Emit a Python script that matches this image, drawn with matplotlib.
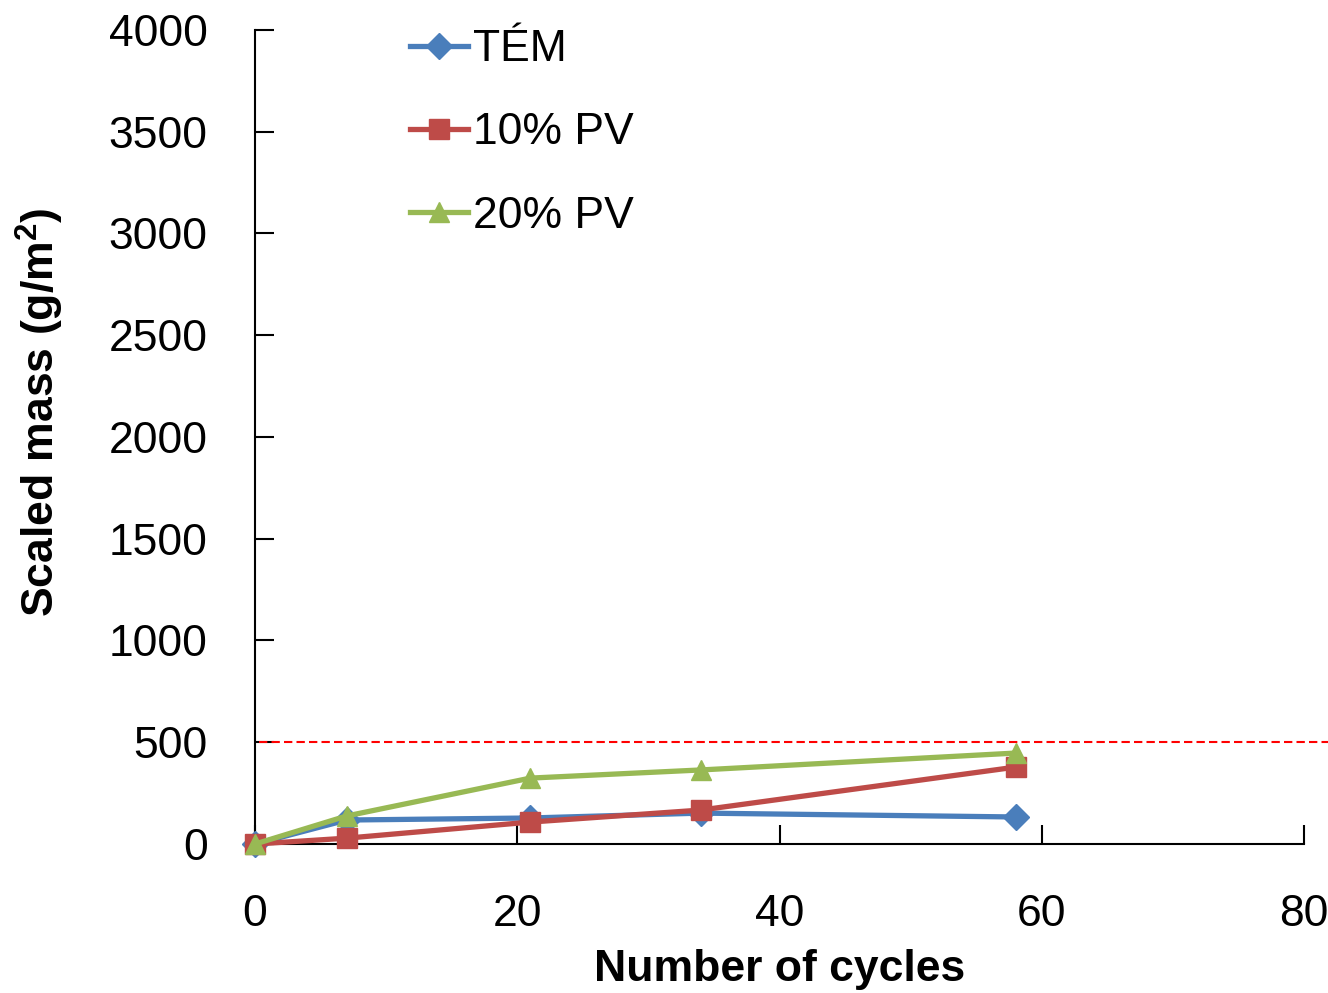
import matplotlib

matplotlib.use("Agg")
import matplotlib.pyplot as plt

cycles = [0, 7, 21, 34, 58]
tem = [0, 118, 128, 152, 133]
pv10 = [0, 29, 108, 167, 378]
pv20 = [0, 138, 324, 364, 447]
limit = 500

plt.rcParams["font.family"] = ["Liberation Sans", "DejaVu Sans"]

fig = plt.figure(figsize=(13.28, 9.93), dpi=100)
ax = fig.add_axes([0.192, 0.150, 0.790, 0.820])

# markers at x=0 sit on the spine, so don't clip them
ax.plot(cycles, tem, color="#4a7ebb", lw=3.8, marker="D", ms=13,
        label="TÉM", zorder=3, clip_on=False)
ax.plot(cycles, pv10, color="#be4b48", lw=3.8, marker="s", ms=14,
        label="10% PV", zorder=4, clip_on=False)
ax.plot(cycles, pv20, color="#98b954", lw=3.8, marker="^", ms=15,
        label="20% PV", zorder=5, clip_on=False)

# limit line runs past the right edge of the axes
ax.plot([0.3, 82], [limit, limit], color="red", ls=(0, (4, 2)), lw=1.5,
        clip_on=False, zorder=2)

ax.set_xlim(0, 80)
ax.set_ylim(0, 4000)
ax.set_xticks(range(0, 81, 20))
ax.set_yticks(range(0, 4001, 500))
ax.tick_params(axis="x", direction="in", length=14, width=1.5, pad=36,
               labelsize=32)
ax.tick_params(axis="y", direction="in", length=14, width=1.5, pad=34,
               labelsize=32)
for s in ("top", "right"):
    ax.spines[s].set_visible(False)
for s in ("left", "bottom"):
    ax.spines[s].set_linewidth(1.5)

ax.set_xlabel("Number of cycles", fontsize=32, fontweight="bold", labelpad=10)
ax.set_ylabel("Scaled mass (g/m$^\\mathregular{2}$)", fontsize=32,
              fontweight="bold")
ax.yaxis.set_label_coords(-0.18, 0.53)

ax.legend(loc="upper left", bbox_to_anchor=(0.11, 1.05), frameon=False,
          fontsize=32, handlelength=1.3, handletextpad=0.1, labelspacing=0.95,
          markerscale=1.0)

fig.savefig("out.png", dpi=100)
